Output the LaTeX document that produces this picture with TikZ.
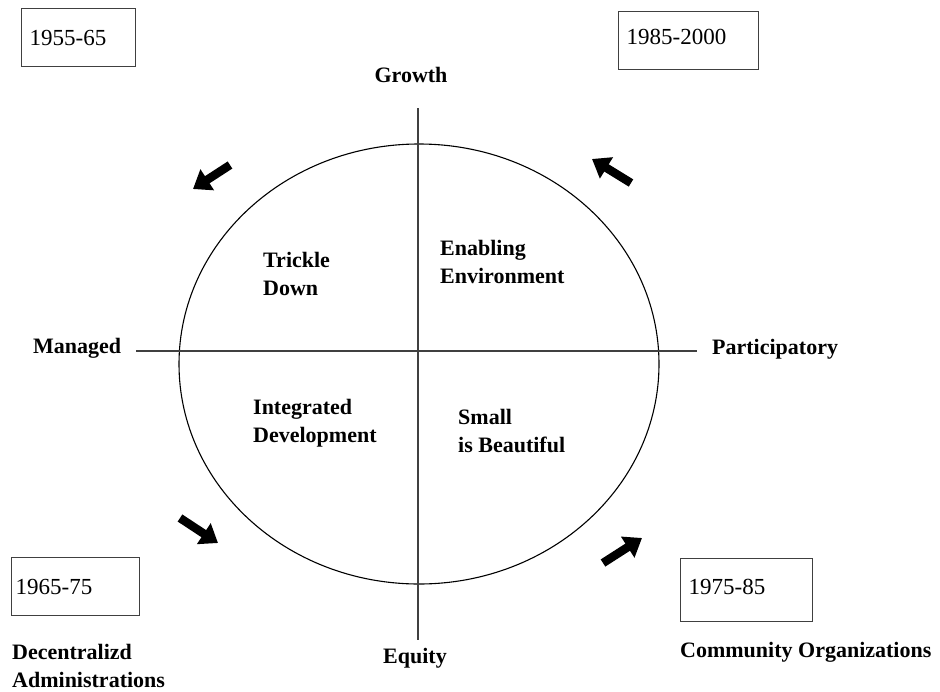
\documentclass[tikz,border=0pt]{standalone}
\usepackage{fontspec}
\setmainfont{Liberation Serif}
\usetikzlibrary{arrows.meta}

\begin{document}
\begin{tikzpicture}[x=1pt,y=-1pt,
  every node/.style={inner sep=0pt, font=\fontsize{22}{28}\selectfont},
  lbl/.style={font=\fontsize{22}{28}\selectfont\bfseries, align=left, anchor=base west},
  axis/.style={line width=1.4pt, draw=black!75},
  rim/.style={line width=1.1pt, draw=black},
  yearbox/.style={draw=black!75, line width=1.4pt, anchor=north west, align=left,
    inner xsep=8pt, inner ysep=0pt, font=\fontsize{23}{28}\selectfont},
  movearrow/.style={line width=8.5pt, -{Triangle[length=17pt, width=24pt]}}
]
\useasboundingbox (0,0) rectangle (940,691);

% axes and the circle of approaches
\coordinate (ctr) at (419,364);
\coordinate (axN) at (418,108);
\coordinate (axS) at (418,640);
\coordinate (axW) at (136,351);
\coordinate (axE) at (697,351);
\draw[rim] (ctr) ellipse [x radius=240pt, y radius=220pt];
\draw[axis] (axN) -- (axS);
\draw[axis] (axW) -- (axE);

% axis labels
\node[lbl, anchor=base] (growth) at (411,82) {Growth};
\node[lbl, anchor=base] (equity) at (415,663) {Equity};
\node[lbl] (managed) at (33,353) {Managed};
\node[lbl] (particip) at (712,354) {Participatory};

% quadrant labels (anchored on the baseline of their last line)
\node[lbl] (trickle) at (263,295) {Trickle\\Down};
\node[lbl] (enabling) at (440,283) {Enabling\\Environment};
\node[lbl] (integrated) at (253,442) {Integrated\\Development};
\node[lbl] (small) at (458,452) {Small\\is Beautiful};

% period boxes
\node[yearbox, text width=98pt, minimum height=58pt] (p1) at (21,8) {1955-65};
\node[yearbox, text width=124pt, minimum height=58pt, text depth=8pt] (p4) at (618,11) {1985-2000};
\node[yearbox, text width=120pt, minimum height=58pt, inner xsep=4pt] (p2) at (11,557) {1965-75};
\node[yearbox, text width=116pt, minimum height=63pt, text depth=6pt] (p3) at (680,558) {1975-85};

% captions under the lower boxes
\node[lbl] (decentral) at (12,687) {Decentralizd\\Administrations};
\node[lbl] (community) at (680,657) {Community Organizations};

% direction of movement around the circle
\coordinate (tlA) at (230,165); \coordinate (tlB) at (193,189);
\coordinate (blA) at (180,518); \coordinate (blB) at (218,543);
\coordinate (brA) at (603,563); \coordinate (brB) at (642,538);
\coordinate (trA) at (631,183); \coordinate (trB) at (592,159);
\draw[movearrow] (tlA) -- (tlB);
\draw[movearrow] (blA) -- (blB);
\draw[movearrow] (brA) -- (brB);
\draw[movearrow] (trA) -- (trB);
\end{tikzpicture}
\end{document}
